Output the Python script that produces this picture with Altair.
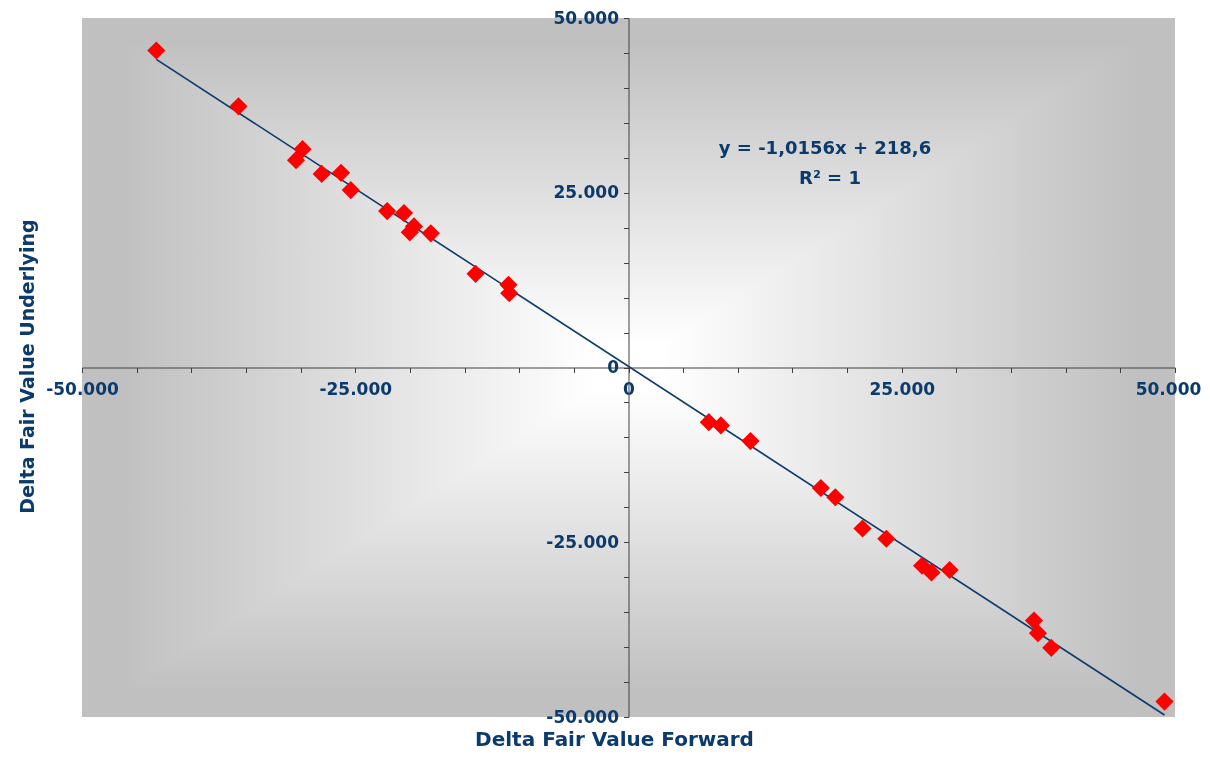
import altair as alt
import pandas as pd

# Data
fwd = [-43200, -35680, -29820, -30420, -28070, -26300, -25410, -22080, -20540,
       -19630, -20010, -18090, -13990, -10980, -10910,
       7350, 8450, 11160, 17600, 18920, 21410, 23590, 26860, 27720, 29380,
       37100, 37460, 38680, 49040]
und = [45350, 37360, 31230, 29660, 27700, 27850, 25380, 22380, 22090,
       20180, 19340, 19190, 13400, 11830, 10630,
       -7820, -8290, -10530, -17240, -18560, -23030, -24500, -28360, -29320, -28970,
       -36200, -38010, -40100, -47800]
equation_lines = ["y = -1,0156x + 218,6", "R² = 1"]
tick_values = list(range(-50000, 50001, 5000))
x_title = "Delta Fair Value Forward"
y_title = "Delta Fair Value Underlying"

df = pd.DataFrame({"fwd": fwd, "und": und})

W, H = 1093, 699
NAVY = "#0b3a6c"
FONT = "DejaVu Sans"
GRAY = "#c0c0c0"

label_expr = ("datum.value % 25000 == 0 ? (datum.value == 0 ? '0' : "
              "(datum.value < 0 ? '-' : '') + format(abs(datum.value) / 1000, 'd') + '.000') : ''")

common_axis = dict(
    values=tick_values, labelExpr=label_expr, grid=False,
    domainColor="#404040", tickColor="#404040", domainWidth=1, tickWidth=1,
    tickSize=5, labelFont=FONT, labelFontSize=17, labelFontWeight="bold",
    labelColor=NAVY, titleFont=FONT, titleFontWeight="bold",
    titleColor=NAVY, zindex=1, labelOverlap=False, labelFlush=False,
)

x_enc = alt.X("fwd:Q", scale=alt.Scale(domain=[-50000, 50000], nice=False),
              axis=alt.Axis(title=x_title, offset=-349.5, labelPadding=9,
                            labelOffset={"condition": {"test": "datum.value == 50000", "value": -7},
                                         "value": 0},
                            titleX=532, titleY=372, titleAlign="center",
                            titleBaseline="middle", titleFontSize=20, **common_axis))
y_enc = alt.Y("und:Q", scale=alt.Scale(domain=[-50000, 50000], nice=False),
              axis=alt.Axis(title=y_title, offset=-546.5, labelPadding=5,
                            titleX=-601.5, titleY=348, titleAngle=270,
                            titleAlign="center", titleBaseline="middle",
                            titleFontSize=19, **common_axis))

one = alt.Data(values=[{"a": 1}])

grad_stops = [alt.GradientStop(offset=0, color=GRAY),
              alt.GradientStop(offset=0.035, color=GRAY),
              alt.GradientStop(offset=0.47, color="#ffffff"),
              alt.GradientStop(offset=0.53, color="#ffffff"),
              alt.GradientStop(offset=0.965, color=GRAY),
              alt.GradientStop(offset=1, color=GRAY)]
h_grad = alt.LinearGradient(gradient="linear", stops=grad_stops,
                            x1=0, x2=1, y1=0, y2=0)
v_grad = alt.LinearGradient(gradient="linear", stops=grad_stops,
                            x1=0, x2=0, y1=0, y2=1)

bg_h = alt.Chart(one).mark_rect(fill=h_grad).encode(
    x=alt.value(0), x2=alt.value(W), y=alt.value(0), y2=alt.value(H))
bg_v = alt.Chart(one).mark_rect(fill=v_grad, blend="darken").encode(
    x=alt.value(0), x2=alt.value(W), y=alt.value(0), y2=alt.value(H))

trend = alt.Chart(df).transform_regression("fwd", "und").mark_line(
    color=NAVY, strokeWidth=1.6).encode(x=x_enc, y=y_enc)

points = alt.Chart(df).mark_point(
    shape="diamond", filled=True, color="#ff0000", opacity=1, size=330
).encode(x=x_enc, y=y_enc)

eq1 = alt.Chart(one).mark_text(
    text=equation_lines[0], font=FONT, fontSize=18, fontWeight="bold",
    color=NAVY, align="center", baseline="middle"
).encode(x=alt.value(743), y=alt.value(131))
eq2 = alt.Chart(one).mark_text(
    text=equation_lines[1], font=FONT, fontSize=18, fontWeight="bold",
    color=NAVY, align="center", baseline="middle"
).encode(x=alt.value(748), y=alt.value(161))

chart = alt.layer(bg_h, bg_v, trend, points, eq1, eq2).properties(
    width=W, height=H,
    padding={"left": 74, "top": 10, "right": 27, "bottom": 37},
    autosize=alt.AutoSizeParams(type="none"),
    background="white",
).configure_view(stroke=None)

chart.save("out.html", embed_options={"renderer": "svg", "actions": False})
